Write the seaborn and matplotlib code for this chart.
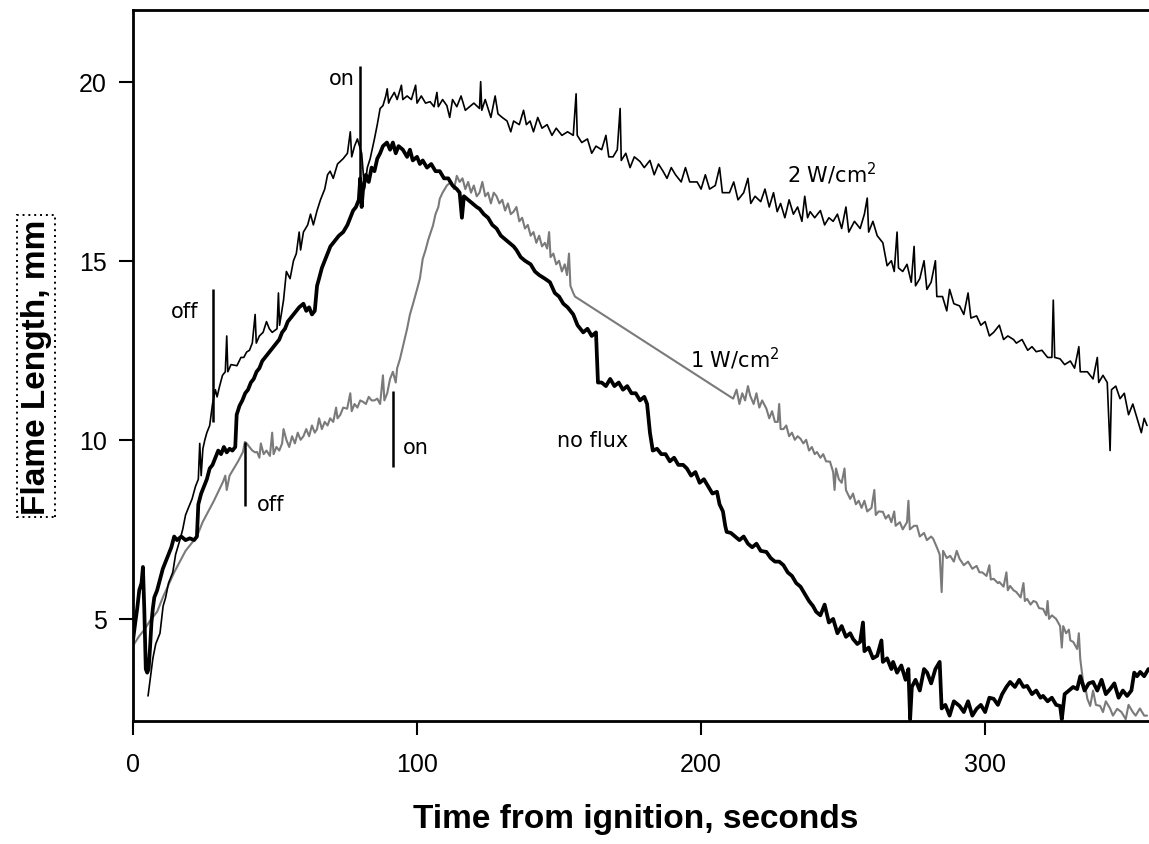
import matplotlib
matplotlib.use("Agg")
import matplotlib.pyplot as plt
import seaborn as sns
import pandas as pd

# ---------------- data ----------------
t_2w = [5.3, 6.2, 7.0, 8.0, 9.5, 10.6, 11.5, 12.5, 14.0, 15.0, 16.5, 17.5, 18.5, 19.5, 20.8, 22.0, 23.0, 23.5, 24.0,
        24.6, 25.3, 26.0, 27.0, 28.0, 29.0, 29.6, 30.5, 31.5, 32.5, 33.0, 33.4, 34.5, 36.6, 38.0, 39.0, 40.0, 41.0,
        42.0, 43.0, 43.4, 44.5, 45.8, 47.0, 48.0, 49.0, 50.7, 51.2, 51.6, 53.0, 54.0, 55.3, 56.5, 57.5, 58.5, 59.0,
        60.0, 61.5, 62.5, 63.5, 64.8, 66.0, 67.5, 68.5, 69.4, 70.5, 72.0, 74.0, 75.5, 76.5, 77.0, 78.0, 79.0, 80.5,
        81.5, 82.5, 83.5, 85.0, 86.0, 87.0, 88.0, 89.0, 89.5, 90.0, 90.5, 92.0, 93.0, 94.5, 95.0, 96.5, 98.0, 99.5,
        100.0, 101.5, 103.0, 104.6, 106.0, 107.0, 107.5, 109.0, 110.5, 111.5, 112.5, 114.0, 115.5, 117.0, 118.5,
        120.0, 122.0, 122.4, 122.8, 124.0, 126.0, 127.5, 128.5, 130.0, 131.7, 133.0, 134.0, 136.0, 137.5, 138.5,
        139.8, 141.0, 142.5, 144.0, 145.8, 147.5, 149.0, 151.0, 153.0, 155.0, 156.0, 156.4, 158.0, 160.0, 161.5,
        163.0, 165.0, 166.5, 167.5, 169.0, 170.5, 171.5, 171.9, 173.5, 175.0, 176.5, 178.5, 180.0, 182.0, 183.5,
        185.0, 186.6, 188.0, 189.5, 191.0, 193.0, 194.5, 196.0, 198.6, 200.0, 201.5, 203.0, 205.0, 206.5, 207.5,
        210.0, 211.5, 213.0, 215.0, 216.5, 217.5, 219.0, 221.0, 222.5, 224.0, 225.5, 226.8, 228.0, 229.5, 231.0,
        232.5, 234.0, 235.5, 236.5, 237.5, 238.4, 240.0, 242.0, 243.5, 245.0, 246.5, 248.0, 249.5, 251.0, 252.0,
        254.0, 256.0, 257.5, 258.5, 259.0, 260.5, 262.0, 264.0, 265.5, 267.0, 268.0, 269.0, 269.5, 271.0, 272.5,
        274.0, 275.0, 275.5, 277.0, 278.5, 279.5, 281.0, 282.5, 283.0, 285.0, 286.5, 287.5, 289.0, 291.0, 292.5,
        294.0, 295.0, 297.0, 298.5, 300.0, 301.5, 303.0, 305.0, 306.5, 308.0, 310.0, 311.0, 313.0, 315.0, 316.5,
        318.0, 320.0, 322.0, 323.5, 324.0, 324.5, 326.4, 328.0, 330.0, 331.5, 333.0, 333.5, 336.0, 338.0, 339.5,
        340.0, 341.5, 343.0, 344.0, 344.5, 346.0, 347.5, 349.0, 350.5, 352.0, 353.5, 355.0, 356.0, 357.0]
y_2w = [2.85, 3.4, 3.9, 4.3, 4.6, 5.36, 5.6, 6.0, 6.3, 6.8, 7.2, 7.5, 7.9, 8.1, 8.35, 8.7, 8.9, 9.9, 9.0,
        9.75, 10.0, 10.2, 10.4, 11.0, 11.4, 11.2, 11.5, 11.8, 11.9, 12.9, 11.9, 12.1, 12.07, 12.3, 12.3, 12.45, 12.5,
        12.7, 13.5, 12.7, 12.9, 13.0, 13.3, 13.1, 13.0, 13.1, 14.1, 13.2, 13.9, 14.7, 14.5, 15.0, 15.2, 15.8, 15.3,
        15.8, 16.0, 16.3, 16.0, 16.4, 16.7, 17.0, 17.4, 17.5, 17.3, 17.7, 17.85, 18.0, 18.6, 17.9, 18.2, 18.4, 18.0,
        17.0, 17.6, 17.85, 18.4, 18.8, 19.25, 19.33, 19.6, 19.8, 19.4, 19.5, 19.7, 19.5, 19.9, 19.5, 19.6, 19.5, 19.9,
        19.4, 19.6, 19.4, 19.44, 19.3, 19.7, 19.3, 19.5, 19.33, 19.0, 19.5, 19.3, 19.6, 19.2, 19.3,
        19.4, 19.25, 20.0, 19.2, 19.5, 19.0, 19.6, 19.1, 19.0, 18.9, 18.6, 18.9, 18.8, 19.2, 18.8,
        18.9, 18.6, 19.0, 18.7, 18.8, 18.5, 18.7, 18.5, 18.6, 18.5, 19.66, 18.5, 18.3, 18.4, 18.0,
        18.2, 18.1, 18.5, 17.9, 17.9, 18.1, 19.25, 17.8, 18.0, 17.6, 17.9, 17.77, 17.6, 17.8, 17.4,
        17.7, 17.5, 17.3, 17.6, 17.4, 17.2, 17.6, 17.2, 17.2, 17.0, 17.4, 17.0, 17.1, 17.6, 16.9,
        16.9, 17.2, 16.7, 16.9, 17.3, 16.6, 16.8, 16.65, 17.0, 16.5, 16.9, 16.37, 16.6, 16.2, 16.7,
        16.3, 16.5, 16.1, 16.8, 16.2, 16.37, 16.2, 16.4, 16.0, 16.2, 16.1, 16.3, 15.9, 16.5, 15.8,
        16.1, 15.9, 16.3, 16.75, 15.8, 16.1, 15.7, 15.5, 14.86, 15.0, 14.7, 15.8, 14.8, 14.7, 14.9,
        14.4, 15.4, 14.3, 14.5, 15.0, 14.2, 14.4, 15.0, 14.0, 14.0, 13.6, 14.2, 13.8, 13.74, 13.5,
        14.1, 13.4, 13.46, 13.2, 13.3, 12.9, 13.0, 13.2, 12.8, 12.9, 12.8, 12.7, 12.8, 12.5, 12.6,
        12.46, 12.5, 12.3, 12.3, 13.9, 12.3, 12.26, 12.1, 12.2, 12.0, 12.6, 11.9, 11.9, 11.7, 12.3,
        11.6, 11.8, 11.6, 9.7, 11.4, 11.5, 11.15, 11.3, 10.7, 11.0, 10.6, 10.2, 10.6, 10.4]

t_1w = [0.0, 2.0, 4.0, 6.0, 8.5, 10.5, 12.5, 14.5, 16.5, 18.5, 20.5, 22.5, 24.5, 26.5, 28.5, 30.0, 31.7, 32.5, 33.0,
        34.0, 35.5, 37.0, 38.7, 39.4, 40.0, 41.0, 42.0, 43.0, 43.7, 44.5, 45.0, 46.0, 47.0, 48.2, 49.0, 49.5, 50.5,
        51.5, 52.5, 53.0, 54.0, 55.0, 56.0, 57.0, 58.0, 59.0, 60.0, 61.0, 62.0, 63.0, 64.0, 64.8, 65.5, 66.5, 67.5,
        68.5, 69.4, 70.5, 71.5, 72.0, 73.0, 74.0, 75.4, 76.5, 77.0, 78.0, 79.0, 80.0, 81.0, 82.0, 83.0, 84.0, 85.0,
        86.0, 87.0, 88.0, 88.5, 89.5, 90.5, 91.5, 92.5, 93.0, 94.0, 95.0, 96.5, 97.5, 98.6, 100.0, 101.0, 102.0,
        103.0, 104.0, 105.6, 106.5, 107.5, 108.0, 109.0, 110.5, 112.0, 113.0, 114.0, 115.0, 116.0, 117.0, 118.0,
        119.0, 120.0, 121.0, 122.0, 123.0, 124.0, 125.0, 126.0, 127.0, 128.0, 129.0, 130.0, 131.0, 132.0, 133.0,
        134.0, 135.0, 136.0, 137.0, 138.0, 139.0, 140.0, 141.0, 142.0, 143.0, 144.0, 145.0, 145.8, 146.5, 147.0,
        148.0, 149.0, 150.0, 151.0, 152.0, 152.8, 153.5, 154.0, 155.0, 155.6,
        211.3, 212.5, 213.5, 214.5, 215.5, 216.5, 217.3, 218.5, 219.5, 220.5, 221.5, 223.0, 224.0, 225.0, 226.0,
        227.0, 227.5, 228.0, 229.0, 230.0, 231.0, 232.0, 233.0, 234.0, 235.0, 236.0, 237.0, 238.0, 239.0, 240.0,
        240.8, 242.0, 243.0, 244.0, 245.4, 246.5, 247.0, 247.5, 248.5, 249.5, 250.5, 251.0, 252.5, 253.5, 254.5,
        255.5, 256.5, 257.5, 258.5, 260.0, 261.0, 261.5, 262.5, 264.0, 265.0, 266.0, 267.0, 268.0, 268.5, 270.0,
        271.0, 272.5, 273.0, 273.5, 275.0, 276.0, 277.0, 278.5, 279.5, 281.0, 281.7, 283.0, 284.0, 284.7, 285.2,
        286.5, 287.7, 289.0, 290.0, 291.0, 292.5, 294.0, 295.5, 297.0, 298.0, 299.0, 300.5, 301.5, 302.0, 303.0,
        304.5, 305.0, 306.5, 307.5, 308.0, 308.8, 310.0, 311.0, 312.5, 313.5, 314.0, 314.8, 316.0, 317.0, 318.0,
        319.0, 320.4, 321.5, 322.0, 322.5, 323.5, 325.0, 326.4, 327.0, 327.5, 328.5, 329.5, 330.0, 331.0, 332.4,
        333.0, 333.5, 334.5, 335.5, 336.0, 337.0, 338.0, 339.0, 340.5, 341.5, 342.5, 344.0, 345.0, 346.5, 348.0,
        349.5, 350.5, 352.0, 353.0, 354.5, 356.0, 357.0]
y_1w = [4.25, 4.5, 4.7, 4.95, 5.2, 5.6, 5.95, 6.3, 6.6, 6.9, 7.1, 7.3, 7.7, 8.0, 8.3, 8.55, 8.83, 9.0, 8.6,
        9.0, 9.2, 9.4, 9.66, 9.94, 9.9, 9.8, 9.7, 9.65, 9.66, 9.5, 9.9, 9.6, 9.7, 9.55, 10.2, 9.6, 9.8,
        9.7, 9.9, 10.3, 10.0, 9.8, 10.1, 9.9, 10.2, 10.0, 10.1, 10.3, 10.1, 10.4, 10.2, 10.3, 10.6, 10.3, 10.5,
        10.4, 10.6, 10.5, 10.9, 10.6, 10.7, 10.9, 10.87, 11.3, 10.8, 11.0, 10.9, 11.1, 11.06, 11.0, 11.2, 11.1, 11.1,
        11.15, 11.0, 11.8, 11.1, 11.3, 11.7, 11.9, 11.6, 12.0, 12.26, 12.6, 13.1, 13.5, 13.8, 14.2, 14.5, 15.05,
        15.3, 15.6, 15.98, 16.3, 16.5, 16.73, 16.9, 17.1, 17.2, 17.0, 17.37, 17.2, 17.3, 17.0, 17.2,
        16.9, 17.1, 16.8, 16.9, 17.2, 16.8, 16.9, 16.6, 16.9, 16.8, 16.6, 16.7, 16.4, 16.6, 16.3,
        16.37, 16.5, 16.1, 16.2, 15.9, 16.0, 15.7, 15.8, 15.5, 15.7, 15.4, 15.5, 15.34, 15.8, 15.1,
        15.2, 14.9, 15.0, 14.7, 14.9, 14.6, 15.2, 14.3, 14.1, 14.0,
        11.15, 11.4, 11.0, 11.3, 11.1, 11.5, 11.23, 11.0, 11.3, 10.9, 11.1, 10.87, 10.6, 10.8, 10.5,
        10.5, 11.0, 10.3, 10.3, 10.4, 10.1, 10.2, 10.0, 10.1, 10.03, 9.9, 10.0, 9.7, 9.8, 9.6,
        9.66, 9.5, 9.6, 9.4, 9.39, 9.1, 8.6, 9.2, 8.9, 8.8, 9.2, 8.6, 8.35, 8.5, 8.2,
        8.3, 8.1, 8.3, 8.0, 8.1, 8.6, 7.9, 8.0, 7.99, 7.8, 7.9, 7.7, 8.0, 7.6, 7.7,
        7.5, 7.7, 8.3, 7.5, 7.6, 7.6, 7.3, 7.4, 7.2, 7.3, 7.24, 7.0, 6.8, 5.75, 6.9,
        6.7, 6.76, 6.6, 6.9, 6.68, 6.5, 6.6, 6.4, 6.48, 6.3, 6.3, 6.2, 6.5, 6.1, 6.12,
        6.0, 6.03, 5.9, 6.3, 5.8, 5.92, 5.8, 5.75, 5.6, 6.0, 5.5, 5.56, 5.4, 5.5, 5.47,
        5.3, 5.28, 5.1, 5.5, 5.0, 5.1, 5.0, 4.8, 4.2, 4.8, 4.6, 4.7, 4.4, 4.36, 4.16,
        4.6, 3.88, 3.24, 3.0, 2.77, 2.57, 3.0, 2.6, 2.57, 2.4, 2.7, 2.5, 2.3, 2.49, 2.4,
        2.2, 2.6, 2.4, 2.3, 2.5, 2.3, 2.3]

t_nf = [0.0, 0.8, 1.5, 2.2, 3.0, 3.5, 4.0, 4.5, 5.0, 5.5, 6.0, 6.5, 7.0, 7.5, 8.5, 9.5, 10.5, 11.5, 12.5, 13.5,
        14.5, 15.5, 17.0, 18.5, 20.0, 21.5, 22.5, 23.0, 24.0, 25.0, 26.0, 27.0, 28.0, 29.0, 30.0, 31.0, 32.0, 33.0,
        34.0, 35.0, 36.0, 36.5, 37.5, 38.5, 39.5, 40.5, 41.5, 42.5, 43.5, 44.5, 45.5, 46.5, 47.5, 48.5, 49.5, 50.5,
        51.5, 52.5, 53.5, 54.5, 55.5, 56.5, 57.5, 58.5, 60.0, 61.0, 62.0, 63.0, 64.0, 64.8, 65.5, 66.5, 67.5, 68.5,
        69.5, 70.5, 71.5, 72.5, 74.0, 75.5, 76.5, 77.5, 78.5, 79.5, 80.0, 80.5, 81.0, 82.0, 83.0, 84.0, 85.0, 86.0,
        87.0, 88.0, 89.4, 90.5, 91.5, 92.5, 93.5, 95.0, 96.5, 97.5, 98.5, 100.0, 101.0, 102.0, 103.5, 105.0, 106.5,
        108.0, 109.5, 111.0, 112.5, 114.0, 115.0, 115.8, 116.5, 118.0, 119.5, 121.0, 122.0, 123.5, 125.0, 126.5,
        128.0, 129.5, 131.0, 132.5, 134.0, 135.0, 136.5, 138.0, 140.0, 141.5, 143.0, 145.0, 146.8, 148.5, 150.0,
        151.5, 153.0, 155.0, 156.5, 158.5, 160.0, 161.5, 163.0, 163.7, 165.0, 166.5, 168.0, 169.5, 171.0, 172.5,
        174.0, 175.5, 177.0, 178.5, 180.0, 181.0, 182.0, 183.0, 184.5, 186.0, 187.5, 189.0, 190.5, 192.0, 193.7,
        195.0, 196.5, 198.0, 199.5, 201.0, 202.5, 204.0, 205.6, 206.5, 207.7, 208.5, 209.0, 210.5, 212.0, 213.5,
        215.0, 216.5, 218.0, 219.5, 221.0, 223.0, 224.5, 226.0, 227.5, 229.0, 230.5, 232.0, 233.5, 235.0, 236.5,
        238.0, 239.4, 240.5, 242.0, 243.5, 245.0, 246.5, 248.0, 249.5, 251.0, 252.5, 253.5, 255.0, 256.0, 257.0,
        257.5, 259.0, 260.5, 262.0, 263.5, 264.0, 265.5, 267.0, 267.6, 269.0, 270.5, 272.0, 273.0, 273.6, 274.2,
        275.5, 277.0, 278.5, 279.6, 281.0, 282.5, 284.0, 284.7, 286.0, 287.5, 289.0, 291.0, 292.5, 294.0, 295.5,
        297.0, 298.5, 300.0, 301.5, 303.0, 304.5, 306.0, 307.5, 308.8, 310.5, 312.0, 313.5, 314.8, 316.5, 318.0,
        319.5, 320.4, 322.0, 323.5, 325.0, 326.4, 327.0, 328.0, 329.5, 331.0, 332.4, 333.5, 335.0, 336.5, 338.0,
        339.5, 341.0, 342.5, 344.0, 345.5, 347.0, 348.5, 350.0, 351.5, 352.5, 353.5, 354.6, 356.0, 357.5]
y_nf = [4.4, 4.9, 5.3, 5.8, 6.0, 6.45, 5.2, 3.6, 3.5, 3.6, 4.2, 4.9, 5.3, 5.6, 5.8, 6.1, 6.4, 6.6, 6.8, 7.0,
        7.3, 7.2, 7.3, 7.2, 7.25, 7.2, 7.3, 8.2, 8.5, 8.7, 8.9, 9.2, 9.3, 9.5, 9.7, 9.6, 9.8, 9.65,
        9.75, 9.7, 9.8, 10.7, 10.95, 11.1, 11.3, 11.4, 11.6, 11.7, 11.9, 12.0, 12.2, 12.3, 12.4, 12.5, 12.6, 12.7,
        12.8, 13.0, 13.1, 13.3, 13.4, 13.5, 13.6, 13.7, 13.8, 13.6, 13.7, 13.5, 13.6, 14.3, 14.5, 14.8, 15.0, 15.2,
        15.4, 15.5, 15.6, 15.7, 15.8, 16.0, 16.2, 16.4, 16.5, 16.7, 17.3, 16.5, 17.0, 17.4, 17.2, 17.6, 17.5, 17.85,
        18.0, 18.2, 18.3, 18.1, 18.3, 18.0, 18.2, 18.1, 17.9, 18.1, 17.8, 17.9, 17.7, 17.8, 17.6, 17.7, 17.5,
        17.5, 17.3, 17.3, 17.1, 17.0, 16.9, 16.2, 16.8, 16.7, 16.6, 16.5, 16.45, 16.3, 16.2, 16.0,
        15.9, 15.7, 15.6, 15.5, 15.4, 15.3, 15.1, 15.0, 14.9, 14.7, 14.6, 14.5, 14.4, 14.1, 14.0,
        13.8, 13.7, 13.5, 13.2, 13.0, 13.1, 12.9, 13.0, 11.6, 11.6, 11.5, 11.7, 11.5, 11.6, 11.4,
        11.5, 11.3, 11.3, 11.1, 11.2, 11.0, 10.2, 9.7, 9.75, 9.6, 9.6, 9.4, 9.5, 9.3, 9.3,
        9.2, 9.0, 9.1, 8.8, 8.9, 8.7, 8.5, 8.55, 8.2, 8.0, 7.6, 7.43, 7.4, 7.3, 7.2,
        7.3, 7.1, 7.0, 7.1, 6.9, 6.87, 6.7, 6.6, 6.6, 6.5, 6.3, 6.2, 6.0, 5.9, 5.7,
        5.5, 5.36, 5.2, 5.1, 5.4, 4.9, 5.0, 4.6, 4.8, 4.5, 4.6, 4.44, 4.3, 4.36, 4.9,
        4.1, 4.2, 3.9, 3.97, 4.4, 3.8, 3.9, 3.6, 3.8, 3.5, 3.7, 3.3, 3.6, 2.2, 3.1,
        3.3, 3.0, 3.6, 3.5, 3.2, 3.6, 3.8, 2.5, 2.6, 2.3, 2.7, 2.57, 2.4, 2.7, 2.3,
        2.49, 2.6, 2.4, 2.8, 2.77, 2.6, 2.9, 3.1, 3.24, 3.1, 3.3, 3.1, 3.13, 2.9, 3.0,
        2.8, 2.85, 2.7, 2.8, 2.6, 2.57, 2.2, 2.9, 3.0, 3.1, 3.04, 3.4, 3.0, 3.2, 3.24,
        3.0, 3.3, 2.9, 3.04, 3.2, 2.8, 3.0, 2.85, 3.0, 3.5, 3.4, 3.52, 3.4, 3.6]

# heater on/off event markers
event_t = [28.2, 80.0, 39.4, 91.5]
event_lo = [10.5, 16.7, 8.15, 9.25]
event_hi = [14.2, 20.45, 9.94, 11.37]
event_text = ["off", "on", "off", "on"]
event_text_x = [18.3, 73.6, 48.6, 99.6]
event_text_y = [13.6, 20.1, 8.2, 9.8]

series_names = ["no flux", "1 W/cm$^2$", "2 W/cm$^2$"]
series_label_x = [149.3, 196.1, 230.3]
series_label_y = [10.0, 12.3, 17.45]

x_ticks = [0, 100, 200, 300]
y_ticks = [5, 10, 15, 20]

# ---------------- plotting ----------------
sns.set_style("ticks")
plt.rcParams['font.family'] = ['DejaVu Sans']
plt.rcParams['text.color'] = 'black'
plt.rcParams['axes.labelcolor'] = 'black'
plt.rcParams['xtick.color'] = 'black'
plt.rcParams['ytick.color'] = 'black'
plt.rcParams['xtick.labelcolor'] = 'black'
plt.rcParams['ytick.labelcolor'] = 'black'

fig = plt.figure(figsize=(11.49, 8.45), dpi=100)
ax = fig.add_axes([133 / 1149, 1 - 722 / 845, 1 - 133 / 1149, (722 - 11) / 845])

df_2w = pd.DataFrame({"t": t_2w, "y": y_2w})
df_1w = pd.DataFrame({"t": t_1w, "y": y_1w})
df_nf = pd.DataFrame({"t": t_nf, "y": y_nf})

sns.lineplot(data=df_1w, x="t", y="y", estimator=None, sort=False, color="#7a7a7a", lw=1.5, ax=ax)
sns.lineplot(data=df_2w, x="t", y="y", estimator=None, sort=False, color="black", lw=1.2, ax=ax)
sns.lineplot(data=df_nf, x="t", y="y", estimator=None, sort=False, color="black", lw=2.7, ax=ax)

ax.vlines(event_t, event_lo, event_hi, colors="black", lw=1.8)
for tx, ty, s in zip(event_text_x, event_text_y, event_text):
    ax.text(tx, ty, s, ha="center", va="center", fontsize=15, color="black")
for tx, ty, s in zip(series_label_x, series_label_y, series_names):
    ax.text(tx, ty, s, ha="left", va="center", fontsize=15, color="black")

ax.set_xlim(0, 357.7)
ax.set_ylim(2.15, 22.0)
ax.set_xticks(x_ticks)
ax.set_yticks(y_ticks)
ax.set_xticklabels([str(v) for v in x_ticks], family="Liberation Sans", fontsize=18, color="black")
ax.set_yticklabels([str(v) for v in y_ticks], family="Liberation Sans", fontsize=18, color="black")
ax.tick_params(axis="both", direction="out", length=10, width=1.5, color="black")
ax.tick_params(axis="x", pad=12)
ax.tick_params(axis="y", pad=9)

for side in ["left", "bottom", "top"]:
    ax.spines[side].set_visible(True)
    ax.spines[side].set_linewidth(2)
    ax.spines[side].set_color("black")
ax.spines["right"].set_visible(False)

ax.set_xlabel("Time from ignition, seconds", fontsize=24, fontweight="bold", family="Liberation Sans",
              color="black")
ax.xaxis.set_label_coords(0.495, -0.115)
ax.set_ylabel("Flame Length, mm", fontsize=24, fontweight="bold", family="Liberation Sans", color="black",
              bbox=dict(boxstyle="square,pad=0.1", fc="none", ec="black", ls=(0, (1, 2)), lw=1.4))
ax.yaxis.set_label_coords(-0.08, 0.499)

fig.savefig("out.png", dpi=100)
